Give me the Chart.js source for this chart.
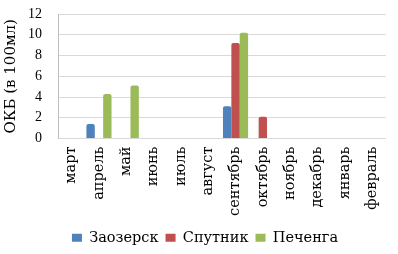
<!DOCTYPE html>
<html>
<head>
<meta charset="utf-8">
<script src="https://cdn.jsdelivr.net/npm/chart.js@4"></script>
<style>
  html, body { margin: 0; padding: 0; background: #fff; }
  #wrap { width: 398px; height: 254px; }
</style>
</head>
<body>
<div id="wrap"><canvas id="myChart"></canvas></div>
<script>
// Meses (eje X)
const meses = ["март", "апрель", "май", "июнь", "июль", "август", "сентябрь", "октябрь", "ноябрь", "декабрь", "январь", "февраль"];

// Valores por serie (null = sin barra)
const valoresZaozersk = [null, 1.4, null, null, null, null, 3.1, null, null, null, null, null];
const valoresSputnik = [null, null, null, null, null, null, 9.2, 2.1, null, null, null, null];
const valoresPechenga = [null, 4.3, 5.1, null, null, null, 10.2, null, null, null, null, null];

const nombresSeries = ["Заозерск", "Спутник", "Печенга"];
const tituloY = "ОКБ (в 100мл)";

const colorAzul = "#4F81BD";
const colorRojo = "#C0504D";
const colorVerde = "#9BBB59";

const fuenteTexto = "'DejaVu Serif', serif";
const fuenteNumeros = "'Liberation Serif', 'Times New Roman', serif";

function crearDataset(label, data, color) {
    return {
        label: label,
        data: data,
        backgroundColor: color,
        borderWidth: 0,
        borderRadius: { topLeft: 2, topRight: 2 },
        borderSkipped: "bottom",
        categoryPercentage: 0.92,
        barPercentage: 1.0,
    };
}

// Desplaza la leyenda un poco a la derecha (como en el original)
const moverLeyenda = {
    id: "moverLeyenda",
    afterLayout(chart) {
        if (chart.legend) {
            chart.legend.left += 12;
            chart.legend.right += 12;
        }
    },
};

const ctx = document.getElementById("myChart");
new Chart(ctx, {
    type: "bar",
    data: {
        labels: meses,
        datasets: [
            crearDataset(nombresSeries[0], valoresZaozersk, colorAzul),
            crearDataset(nombresSeries[1], valoresSputnik, colorRojo),
            crearDataset(nombresSeries[2], valoresPechenga, colorVerde),
        ],
    },
    plugins: [moverLeyenda],
    options: {
        responsive: true,
        maintainAspectRatio: false,
        animation: false,
        layout: {
            padding: { left: 0, right: 12, top: 14, bottom: -1 },
        },
        scales: {
            x: {
                grid: { display: false, drawTicks: false },
                border: { color: "#d9d9d9" },
                ticks: {
                    color: "#000",
                    font: { family: fuenteTexto, size: 14.5 },
                    minRotation: 90,
                    maxRotation: 90,
                    autoSkip: false,
                    padding: 8,
                },
                afterFit: (scale) => { scale.height = 85; },
            },
            y: {
                min: 0,
                max: 12,
                ticks: {
                    stepSize: 2,
                    autoSkip: false,
                    color: "#000",
                    font: { family: fuenteNumeros, size: 14 },
                    padding: 2,
                },
                grid: { color: "#d9d9d9", drawTicks: true, tickLength: 14, tickColor: "rgba(0,0,0,0)" },
                border: { color: "#bfbfbf" },
                title: {
                    display: true,
                    text: tituloY,
                    color: "#000",
                    font: { family: fuenteTexto, size: 15 },
                    padding: { top: 2, bottom: 0 },
                },
                afterFit: (scale) => { scale.width = 58; },
            },
        },
        plugins: {
            legend: {
                position: "bottom",
                labels: {
                    color: "#000",
                    font: { family: fuenteTexto, size: 14.5 },
                    boxWidth: 10,
                    boxHeight: 8,
                    padding: 7,
                },
            },
            tooltip: { enabled: false },
        },
    },
});
</script>
</body>
</html>
